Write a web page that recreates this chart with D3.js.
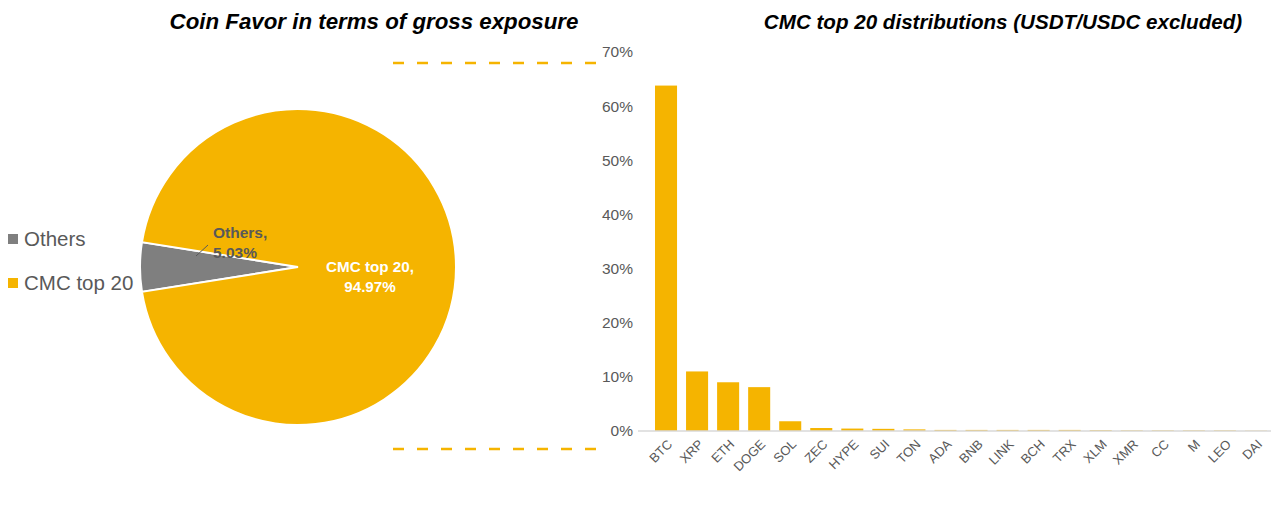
<!DOCTYPE html>
<html lang="en">
  <meta charset="utf-8">
  <style>
    body{ margin: 0; background: #fff; }
    text{ font-family: Arial, "Liberation Sans", sans-serif; }
  </style>
  <body>
    <svg width="1280" height="505"></svg>

    <script src="https://d3js.org/d3.v7.min.js"></script>
    <script>
      // pie data
      let pieNames = ['Others', 'CMC top 20']
      let pieValues = [5.03, 94.97]
      let pieColors = ['#7f7f7f', '#f5b400']

      // bar data
      let coins = ['BTC','XRP','ETH','DOGE','SOL','ZEC','HYPE','SUI','TON','ADA','BNB','LINK','BCH','TRX','XLM','XMR','CC','M','LEO','DAI']
      let shares = [63.8, 11.0, 9.0, 8.1, 1.8, 0.55, 0.45, 0.4, 0.3, 0.2, 0.2, 0.2, 0.2, 0.2, 0.15, 0.1, 0.1, 0.1, 0.1, 0.05]
      let yTicks = [0, 10, 20, 30, 40, 50, 60, 70]

      let svg = d3.select('svg')
      let orange = '#f5b400'
      let grey = '#595959'

      // titles
      svg.append('text')
        .attr('x', 374).attr('y', 29)
        .attr('text-anchor', 'middle')
        .attr('font-size', 22.3).attr('font-weight', 'bold').attr('font-style', 'italic')
        .text('Coin Favor in terms of gross exposure')
      svg.append('text')
        .attr('x', 1003).attr('y', 29)
        .attr('text-anchor', 'middle')
        .attr('font-size', 20.6).attr('font-weight', 'bold').attr('font-style', 'italic')
        .text('CMC top 20 distributions (USDT/USDC excluded)')

      // ---- pie ----
      let r = 158
      let pieG = svg.append('g').attr('transform', 'translate(298,267)')
      let half = Math.PI * pieValues[0] / 100
      let start = 1.5 * Math.PI - half
      let pie = d3.pie().sort(null)
        .startAngle(start).endAngle(start + 2 * Math.PI)
        (pieValues)
      let arc = d3.arc().innerRadius(0).outerRadius(r)

      pieG.selectAll('path')
        .data(pie).enter()
        .append('path')
        .attr('d', arc)
        .attr('fill', (d, i) => pieColors[i])
        .attr('stroke', '#fff')
        .attr('stroke-width', 2)

      // labels
      let othersLab = pieG.append('text')
        .attr('font-size', 15.5).attr('font-weight', 'bold').attr('fill', grey)
      othersLab.append('tspan').attr('x', -85).attr('y', -29).text(pieNames[0] + ',')
      othersLab.append('tspan').attr('x', -85).attr('y', -9).text(pieValues[0].toFixed(2) + '%')
      pieG.append('line')
        .attr('x1', -102).attr('y1', -11).attr('x2', -90).attr('y2', -22)
        .attr('stroke', grey).attr('stroke-width', 1)

      let cmcLab = pieG.append('text')
        .attr('font-size', 15.2).attr('font-weight', 'bold').attr('fill', '#fff')
        .attr('text-anchor', 'middle')
      cmcLab.append('tspan').attr('x', 72).attr('y', 5).text(pieNames[1] + ',')
      cmcLab.append('tspan').attr('x', 72).attr('y', 25).text(pieValues[1].toFixed(2) + '%')

      // legend
      let legend = svg.append('g')
        .selectAll('g')
        .data(pieNames).enter()
        .append('g')
        .attr('transform', (d, i) => `translate(8,${239 + i * 44})`)
      legend.append('rect')
        .attr('x', 0).attr('y', -5).attr('width', 10).attr('height', 10)
        .attr('fill', (d, i) => pieColors[i])
      legend.append('text')
        .attr('x', 16).attr('y', 7)
        .attr('font-size', 20.5).attr('fill', grey)
        .text(d => d)

      // dashed connectors
      svg.selectAll('line.dash')
        .data([63, 449]).enter()
        .append('line')
        .attr('class', 'dash')
        .attr('x1', 393).attr('x2', 596)
        .attr('y1', d => d).attr('y2', d => d)
        .attr('stroke', orange).attr('stroke-width', 2.5)
        .attr('stroke-dasharray', '11 13')

      // ---- bars ----
      let x = d3.scaleBand().domain(coins).range([650.5, 1271.5]).paddingInner(0.29).paddingOuter(0.145)
      let y = d3.scaleLinear().domain([0, 70]).range([431, 52])

      let yAxis = d3.axisLeft(y).tickValues(yTicks).tickFormat(d => d + '%').tickSize(0).tickPadding(0)
      let yg = svg.append('g').attr('transform', 'translate(633,0)').call(yAxis)
      yg.select('.domain').remove()
      yg.selectAll('text').attr('font-size', 15.5).attr('fill', grey).attr('font-family', 'Arial, "Liberation Sans", sans-serif')

      svg.append('g')
        .selectAll('rect')
        .data(shares).enter()
        .append('rect')
        .attr('x', (d, i) => x(coins[i]))
        .attr('y', d => y(d))
        .attr('width', x.bandwidth())
        .attr('height', d => y(0) - y(d))
        .attr('fill', orange)

      svg.append('line')
        .attr('x1', 638).attr('x2', 1271)
        .attr('y1', y(0)).attr('y2', y(0))
        .attr('stroke', '#d9d9d9').attr('stroke-width', 1.5)

      svg.append('g')
        .selectAll('text')
        .data(coins).enter()
        .append('text')
        .attr('transform', d => `translate(${x(d) + x.bandwidth() / 2 + 7},${y(0) + 14}) rotate(-45)`)
        .attr('text-anchor', 'end')
        .attr('font-size', 13).attr('fill', grey)
        .text(d => d)
    </script>
</body>
</html>
